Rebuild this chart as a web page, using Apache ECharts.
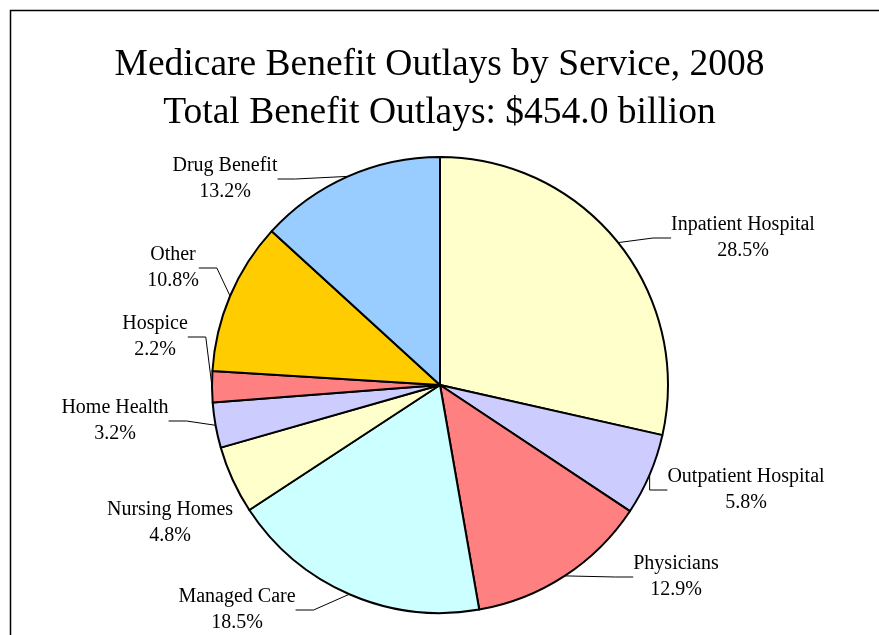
<!DOCTYPE html>
<html><head><meta charset="utf-8">
<script src="https://cdn.jsdelivr.net/npm/echarts@6/dist/echarts.min.js"></script>
<style>html,body{margin:0;padding:0;background:#fff}#c{width:879px;height:635px}</style>
</head><body><div id="c"></div>
<script>
const categories = ['Inpatient Hospital','Outpatient Hospital','Physicians','Managed Care','Nursing Homes','Home Health','Hospice','Other','Drug Benefit'];
const shares = [28.5, 5.8, 12.9, 18.5, 4.8, 3.2, 2.2, 10.8, 13.2];
const sliceColors = ['#FFFFCC','#CCCCFF','#FF8080','#CCFFFF','#FFFFCC','#CCCCFF','#FF8080','#FFCC00','#99CCFF'];
const titleLines = ['Medicare Benefit Outlays by Service, 2008', 'Total Benefit Outlays: $454.0 billion'];
// label box centres (pixels), as placed in the reference layout
const labelCentres = [[743,238],[746,490],[676,577],[237,610],[170,523],[115,421],[155,337],[173,268],[225,179]];
const leaderShown = [true, true, true, true, false, true, true, true, true];

const chart = echarts.init(document.getElementById('c'));
chart.setOption({
  backgroundColor: '#fff',
  animation: false,
  title: {
    text: titleLines.join('\n'),
    left: 'center', top: 36,
    textStyle: { fontFamily: 'Liberation Serif', fontSize: 37.5, fontWeight: 'normal', color: '#000', lineHeight: 48 }
  },
  graphic: [{
    type: 'rect', shape: { x: 10.5, y: 10.5, width: 1000, height: 1000 },
    style: { fill: 'none', stroke: '#000', lineWidth: 1.5 }, silent: true, z: 0
  }],
  series: [{
    type: 'pie',
    center: [440, 385],
    radius: 228,
    startAngle: 90,
    clockwise: true,
    data: categories.map((n, i) => ({
      name: n, value: shares[i],
      itemStyle: { color: sliceColors[i] },
      labelLine: { show: leaderShown[i] }
    })),
    itemStyle: { borderColor: '#000', borderWidth: 2 },
    label: {
      show: true, position: 'outside',
      formatter: p => p.name + '\n' + p.value.toFixed(1) + '%',
      fontFamily: 'Liberation Serif', fontSize: 20, color: '#000', lineHeight: 26
    },
    labelLine: { show: true, length: 12, length2: 18, lineStyle: { color: '#000', width: 1 } },
    labelLayout: function (p) {
      const c = labelCentres[p.dataIndex];
      return { x: c[0], y: c[1], align: 'center', verticalAlign: 'middle' };
    }
  }]
});
</script></body></html>
